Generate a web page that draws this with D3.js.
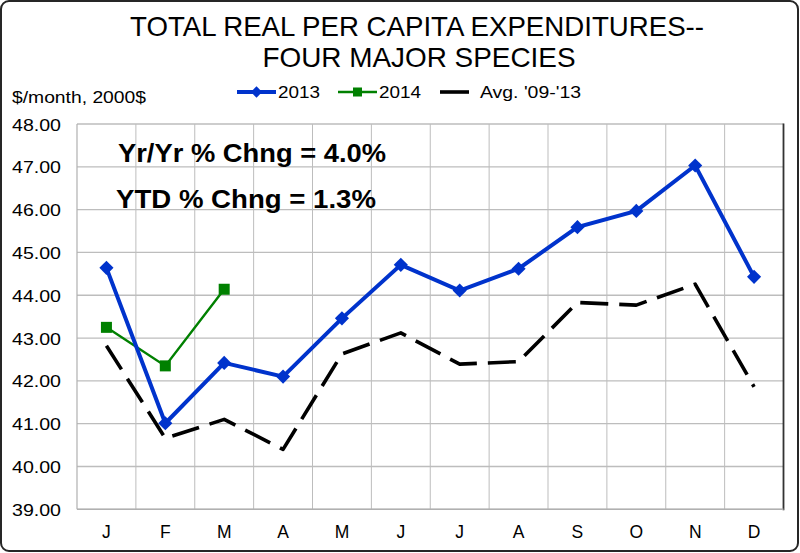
<!DOCTYPE html>
<html><head><meta charset="utf-8">
<script src="https://cdn.jsdelivr.net/npm/d3@7/dist/d3.min.js"></script>
<style>body{margin:0;background:#fff}svg{display:block}text{font-family:"Liberation Sans",Arial,sans-serif}</style>
</head><body>
<svg id="c" width="800" height="553"></svg>
<script>
const months = ["J","F","M","A","M","J","J","A","S","O","N","D"];
const s2013 = [44.64,41.01,42.42,42.10,43.46,44.71,44.11,44.62,45.59,45.97,47.03,44.43];
const s2014 = [43.25,42.35,44.14];
const sAvg  = [42.82,40.66,41.10,40.40,42.63,43.12,42.39,42.45,43.83,43.77,44.26,41.86];
const yTicks = [39,40,41,42,43,44,45,46,47,48];
const titleLines = ["TOTAL REAL PER CAPITA EXPENDITURES--","FOUR MAJOR SPECIES"];
const seriesNames = ["2013","2014","Avg. '09-'13"];
const notes = ["Yr/Yr % Chng = 4.0%","YTD % Chng = 1.3%"];
const yLabel = "$/month, 2000$";

const svg = d3.select("#c");
const L=77, R=783.5, T=124, B=509.3;
const idx = months.map((m,i)=>i);
const x = d3.scaleBand().domain(idx).range([L,R]).padding(0);
const cx = i => x(i)+x.bandwidth()/2;
const y = d3.scaleLinear().domain([39,48]).range([B,T]);

// outer border
svg.append("rect").attr("x",1).attr("y",1).attr("width",797).attr("height",550)
  .attr("rx",8).attr("fill","#fff").attr("stroke","#262626").attr("stroke-width",2);

function fitText(sel,w){ sel.attr("textLength",w).attr("lengthAdjust","spacingAndGlyphs"); return sel;}

// title
fitText(svg.append("text").attr("x",417).attr("y",35.5).attr("text-anchor","middle")
  .attr("font-size",28).text(titleLines[0]),574);
fitText(svg.append("text").attr("x",419).attr("y",66.5).attr("text-anchor","middle")
  .attr("font-size",28).text(titleLines[1]),313);

// grid
const g = svg.append("g");
g.selectAll("line.h").data(yTicks).join("line")
  .attr("x1",L).attr("x2",R).attr("y1",d=>y(d)).attr("y2",d=>y(d))
  .attr("stroke","#bdbdbd").attr("stroke-width",1.3);
g.selectAll("line.v").data(idx.slice(1)).join("line")
  .attr("x1",d=>x(d)).attr("x2",d=>x(d)).attr("y1",T).attr("y2",B)
  .attr("stroke","#bdbdbd").attr("stroke-width",1);
g.append("line").attr("x1",L).attr("x2",L).attr("y1",T).attr("y2",B).attr("stroke","#b0b0b0").attr("stroke-width",1.2);
g.append("line").attr("x1",R).attr("x2",R).attr("y1",T-0.5).attr("y2",B+1).attr("stroke","#333").attr("stroke-width",1.8);
g.append("line").attr("x1",L).attr("x2",R).attr("y1",B).attr("y2",B).attr("stroke","#b0b0b0").attr("stroke-width",1.5);

// y axis labels
const yAxis = d3.axisLeft(y).tickValues(yTicks).tickFormat(d3.format(".2f")).tickSize(0).tickPadding(0);
const ya = svg.append("g").attr("transform","translate(61,0)").call(yAxis);
ya.select(".domain").remove();
ya.selectAll("text").attr("font-size",17).attr("fill","#000").attr("dy","0.36em")
  .style("font-family","'Liberation Sans',Arial,sans-serif").attr("textLength",49).attr("lengthAdjust","spacingAndGlyphs");

// x axis labels
const xAxis = d3.axisBottom(x).tickFormat(i=>months[i]).tickSize(0).tickPadding(0);
const xa = svg.append("g").attr("transform",`translate(0,${538})`).call(xAxis);
xa.select(".domain").remove();
xa.selectAll("text").attr("font-size",17.5).attr("fill","#000").attr("dy",0).attr("y",0)
  .style("font-family","'Liberation Sans',Arial,sans-serif");

// y label
fitText(svg.append("text").attr("x",12).attr("y",103).attr("font-size",16).text(yLabel),134);

// annotations
fitText(svg.append("text").attr("x",118).attr("y",162.3).attr("font-size",26).attr("font-weight","bold").text(notes[0]),268);
fitText(svg.append("text").attr("x",116).attr("y",208.3).attr("font-size",26).attr("font-weight","bold").text(notes[1]),260);

// lines
const line = d3.line().x((d,i)=>cx(i)).y(d=>y(d));
const blue="#0033cc", green="#008000";
svg.append("path").datum(sAvg).attr("d",line).attr("fill","none").attr("stroke","#000")
  .attr("stroke-width",3.6).attr("stroke-dasharray","28,11").attr("stroke-linejoin","round");
svg.append("path").datum(s2014).attr("d",line).attr("fill","none").attr("stroke",green).attr("stroke-width",2.4);
svg.append("path").datum(s2013).attr("d",line).attr("fill","none").attr("stroke",blue).attr("stroke-width",4);

const diamond = d3.symbol().type(d3.symbolSquare).size(100);
svg.selectAll("path.d13").data(s2013).join("path")
  .attr("d",diamond).attr("transform",(d,i)=>`translate(${cx(i)},${y(d)}) rotate(45)`).attr("fill",blue);
svg.selectAll("rect.s14").data(s2014).join("rect")
  .attr("x",(d,i)=>cx(i)-5.5).attr("y",d=>y(d)-5.5).attr("width",11).attr("height",11).attr("fill",green);

// legend
const lg = svg.append("g");
lg.append("line").attr("x1",237).attr("x2",276).attr("y1",92).attr("y2",92).attr("stroke",blue).attr("stroke-width",4);
lg.append("path").attr("d",d3.symbol().type(d3.symbolSquare).size(64)).attr("transform","translate(256.5,92) rotate(45)").attr("fill",blue);
fitText(lg.append("text").attr("x",278).attr("y",97.5).attr("font-size",16).text(seriesNames[0]),42);
lg.append("line").attr("x1",338).attr("x2",377).attr("y1",92).attr("y2",92).attr("stroke",green).attr("stroke-width",2.4);
lg.append("rect").attr("x",353).attr("y",87.5).attr("width",9).attr("height",9).attr("fill",green);
fitText(lg.append("text").attr("x",379).attr("y",97.5).attr("font-size",16).text(seriesNames[1]),42);
lg.append("line").attr("x1",440).attr("x2",469).attr("y1",92).attr("y2",92).attr("stroke","#000").attr("stroke-width",3.6);
fitText(lg.append("text").attr("x",480).attr("y",97.5).attr("font-size",16).text(seriesNames[2]),101);
</script>
</body></html>
